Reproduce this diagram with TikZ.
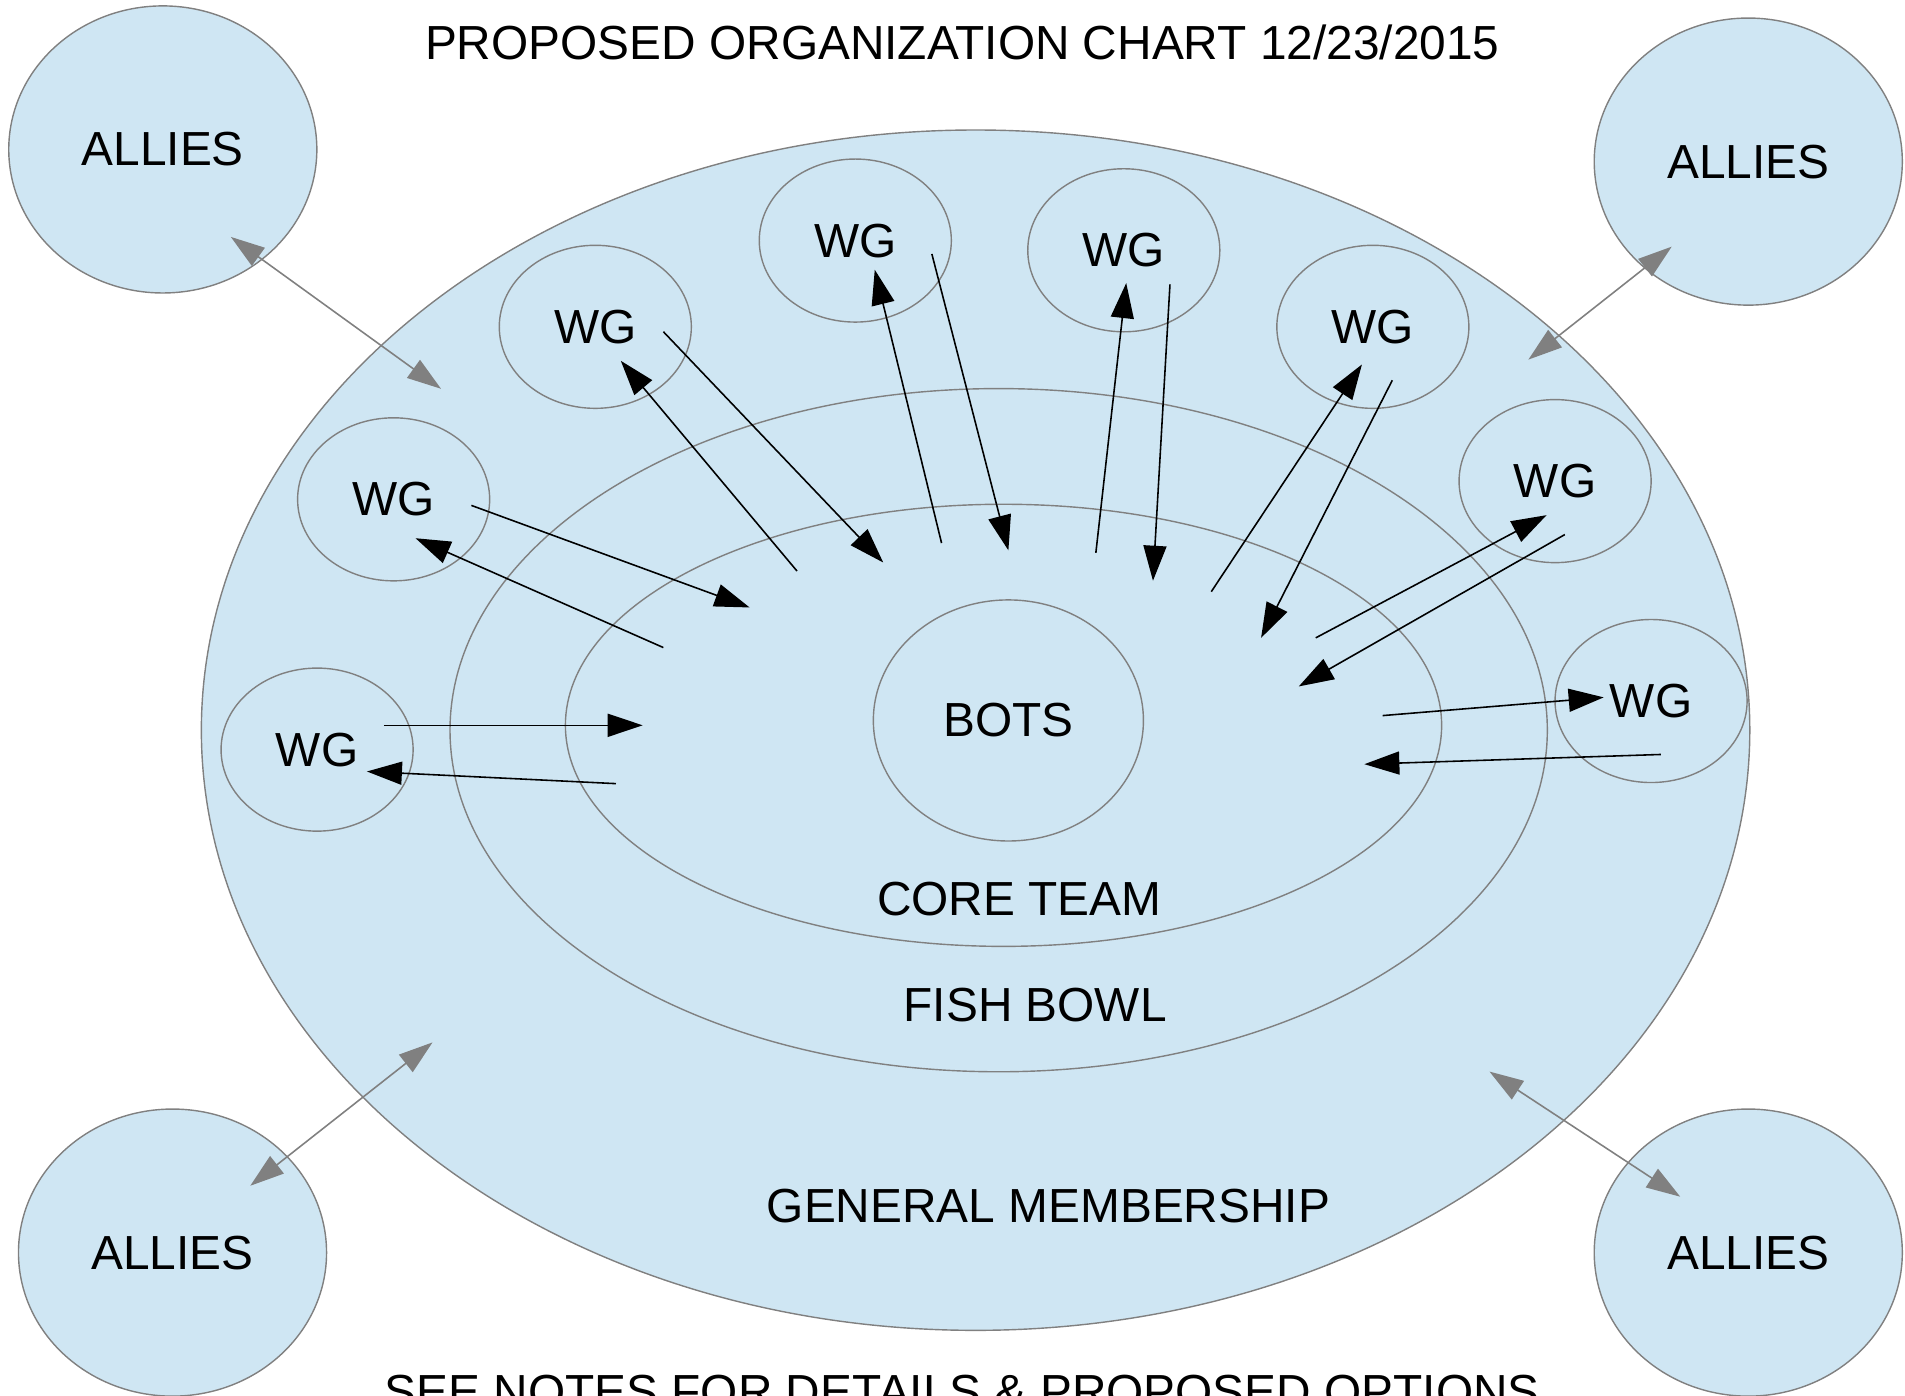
\documentclass[tikz,border=0pt]{standalone}
\usepackage{fontspec}
\setmainfont{Liberation Sans}
\usetikzlibrary{shapes.geometric,arrows.meta,calc}
\definecolor{bowlblue}{RGB}{207,230,243}
\definecolor{rimgray}{RGB}{128,128,128}
\begin{document}
\begin{tikzpicture}[x=0.0121492cm,y=-0.0121492cm,
	every node/.style={font=\fontsize{13.6}{16}\selectfont},
	ring/.style={ellipse,draw=rimgray,fill=bowlblue,inner sep=0pt,line width=0.4pt},
	wg/.style={ring,minimum width=1.92cm,minimum height=1.63cm},
	allies/.style={ring,minimum width=3.08cm,minimum height=2.87cm},
	flow/.style={black,line width=0.45pt,-{Triangle[length=3.5mm,width=2.3mm]}},
	link/.style={rimgray,line width=0.45pt,{Triangle[length=3.4mm,width=2.2mm]}-{Triangle[length=3.4mm,width=2.2mm]}}]
	\useasboundingbox (0,0) rectangle (1568,1149);
	\clip (0,0) rectangle (1568,1149);

	\node at (792,35) (title) {PROPOSED ORGANIZATION CHART 12/23/2015};

	\node[ring,minimum width=15.48cm,minimum height=12.00cm] at (803,601) (gm) {};
	\node[ring,minimum width=10.97cm,minimum height=6.83cm] at (822,601) (fb) {};
	\node[ring,minimum width=8.76cm,minimum height=4.42cm] at (826,597) (core) {};
	\node[ring,minimum width=2.70cm,minimum height=2.41cm] at (830,593) (bots) {BOTS};

	\node at (839,740) (corelabel) {CORE TEAM};
	\node at (852,827) (fblabel) {FISH BOWL};
	\node at (863,993) (gmlabel) {GENERAL MEMBERSHIP};
	\node at (792,1146) (notes) {SEE NOTES FOR DETAILS \& PROPOSED OPTIONS};

	\node[allies] at (134,123) (alliesA) {ALLIES};
	\node[allies] at (1439,133) (alliesB) {ALLIES};
	\node[allies] at (142,1031) (alliesC) {ALLIES};
	\node[allies] at (1439,1031) (alliesD) {ALLIES};

	\node[wg] at (324,411) (wg1) {WG};
	\node[wg] at (490,269) (wg2) {WG};
	\node[wg] at (704,198) (wg3) {WG};
	\node[wg] at (925,206) (wg4) {WG};
	\node[wg] at (1130,269) (wg5) {WG};
	\node[wg] at (1280,396) (wg6) {WG};
	\node[wg] at (1359,577) (wg7) {WG};
	\node[wg] at (261,617) (wg8) {WG};

	% free ends inside the core team
	\coordinate (c1) at (529,597);
	\coordinate (c2) at (507,645);
	\coordinate (c3) at (617,500);
	\coordinate (c4) at (546,533);
	\coordinate (c5) at (656,470);
	\coordinate (c6) at (727,463);
	\coordinate (c7) at (775,447);
	\coordinate (c8) at (830,453);
	\coordinate (c9) at (902,455);
	\coordinate (c10) at (949,478);
	\coordinate (c11) at (997,487);
	\coordinate (c12) at (1038,525);
	\coordinate (c13) at (1083,525);
	\coordinate (c14) at (1069,565);
	\coordinate (c15) at (1138,589);
	\coordinate (c16) at (1123,629);

	% free ends inside the general membership
	\coordinate (g1) at (363,320);
	\coordinate (g2) at (1258,296);
	\coordinate (g3) at (356,858);
	\coordinate (g4) at (1226,882);

	\draw[link]	($(alliesA)+(56,72)$) -- (g1);
	\draw[link]	($(alliesB)+(-63,70)$) -- (g2);
	\draw[link]	($(alliesC)+(64,-55)$) -- (g3);
	\draw[link]	($(alliesD)+(-56,-46)$) -- (g4);

	\draw[flow]	($(wg8)+(55,-20)$) -- (c1);
	\draw[flow]	(c2) -- ($(wg8)+(41,18)$);
	\draw[flow]	($(wg1)+(64,5)$) -- (c3);
	\draw[flow]	(c4) -- ($(wg1)+(18,32)$);
	\draw[flow]	(c5) -- ($(wg2)+(21,28)$);
	\draw[flow]	($(wg2)+(56,4)$) -- (c6);
	\draw[flow]	(c7) -- ($(wg3)+(16,24)$);
	\draw[flow]	($(wg3)+(63,11)$) -- (c8);
	\draw[flow]	(c9) -- ($(wg4)+(2,27)$);
	\draw[flow]	($(wg4)+(38,28)$) -- (c10);
	\draw[flow]	(c11) -- ($(wg5)+(-9,31)$);
	\draw[flow]	($(wg5)+(16,44)$) -- (c12);
	\draw[flow]	(c13) -- ($(wg6)+(-7,28)$);
	\draw[flow]	($(wg6)+(8,44)$) -- (c14);
	\draw[flow]	(c15) -- ($(wg7)+(-39,-3)$);
	\draw[flow]	($(wg7)+(8,44)$) -- (c16);
\end{tikzpicture}
\end{document}
